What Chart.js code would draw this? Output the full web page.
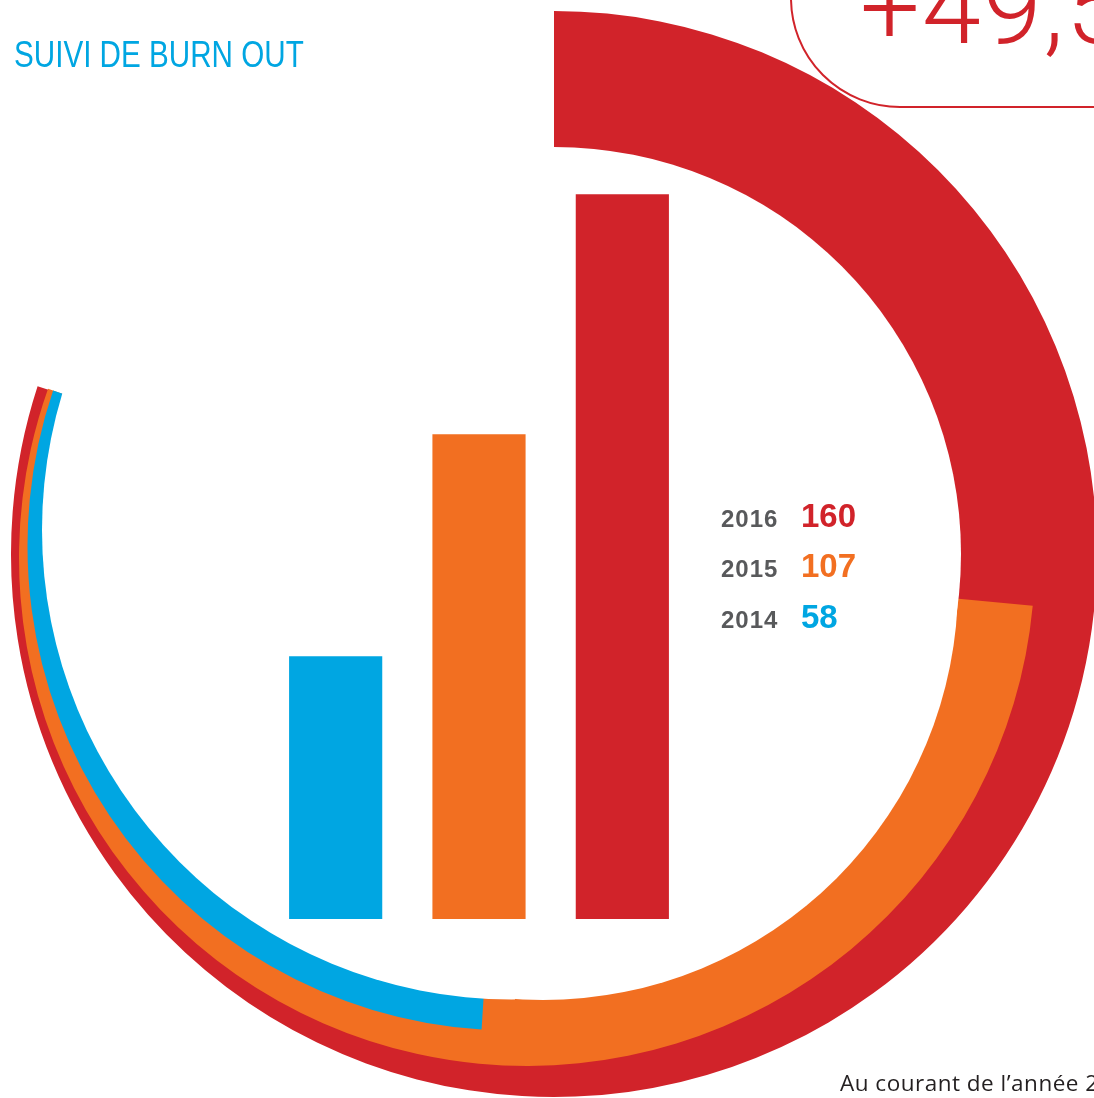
<!DOCTYPE html>
<html lang="fr">
<head>
<meta charset="utf-8">
<title>Suivi de burn out</title>
<script src="https://cdn.jsdelivr.net/npm/chart.js@4.4.1/dist/chart.umd.min.js"></script>
<style>
  html, body { margin: 0; padding: 0; background: #fff; }
  #page { position: relative; width: 1094px; height: 1098px; overflow: hidden; background: #fff; }
  #rings { position: absolute; left: 0; top: 0; z-index: 1; }
  #bars { position: absolute; left: 264px; top: 13px; z-index: 2; }
  .title { position: absolute; left: 14px; top: 37px; z-index: 3; white-space: nowrap;
    font: 36px/36px "Liberation Sans", Arial, sans-serif; color: #00A6E2;
    transform: scaleX(0.823); transform-origin: 0 0; }
  .badge { position: absolute; left: 790px; top: -160px; width: 600px; height: 268px; z-index: 3;
    box-sizing: border-box; border: 2px solid #D1232A; border-radius: 110px; }
  .headline { position: absolute; left: 860px; top: -46px; z-index: 4; white-space: nowrap;
    font: 300 106px/106px Roboto, sans-serif; letter-spacing: 2px; color: #D1232A; }
  #legend { position: absolute; left: 721px; top: 499px; z-index: 3; }
  .row { position: absolute; left: 0; display: flex; align-items: baseline; line-height: 33px; white-space: nowrap; }
  .year { width: 80px; font-weight: bold; font-size: 24px; letter-spacing: 1px; color: #58595B;
    font-family: "Liberation Sans", Arial, sans-serif; }
  .count { font-weight: bold; font-size: 33px; font-family: "Liberation Sans", Arial, sans-serif; }
  .note { position: absolute; left: 840px; top: 1072px; z-index: 3; white-space: nowrap;
    font: 22.5px/22px "Open Sans", sans-serif; letter-spacing: 0.5px; color: #231F20; }
</style>
</head>
<body>
<div id="page">
  <canvas id="rings" width="1094" height="1098"></canvas>
  <canvas id="bars" width="430" height="906"></canvas>
  <div class="title">SUIVI DE BURN OUT</div>
  <div class="badge"></div>
  <div class="headline">+49,5 %</div>
  <div id="legend"></div>
  <div class="note">Au courant de l’année 2016,</div>
</div>
<script>
  'use strict';

  // data
  const years = ['2014', '2015', '2016'];
  const burnOutCases = [58, 107, 160];
  const seriesColors = ['#00A6E2', '#F26F21', '#D1232A'];
  const FULL_TURN = 200; // cases needed to close the ring

  // ring layout on the page (px): centre offset from the hub and outer radius per year
  const HUB = { x: 554, y: 554 };
  const ringShape = [
    { dx: -42, dy: -8, r: 484.5 },
    { dx: -27, dy: 4, r: 508 },
    { dx: 0, dy: 0, r: 543 }
  ];
  // white core drawn over the rings; from/to (clock degrees) limit a disc to a wedge
  const coreDiscs = [
    { dx: 0, dy: 0, r: 407 },
    { dx: -11, dy: 31, r: 415 },
    { dx: -42.5, dy: -24, r: 469.5, from: 185, to: 330 }
  ];

  const toCanvasAngle = deg => (deg - 90) * Math.PI / 180;

  // move each ring onto its own centre so the bands narrow towards the end
  const spiralRings = {
    id: 'spiralRings',
    afterDatasetUpdate(chart, args) {
      const shape = ringShape[args.index];
      args.meta.data.forEach(function (arc, j) {
        arc.x = HUB.x + shape.dx;
        arc.y = HUB.y + shape.dy;
        arc.innerRadius = 0;
        arc.outerRadius = shape.r;
        if (j === 1) {
          // all value slices end on the same radial line through the hub
          const r = shape.r - 10;
          const px = HUB.x + r * Math.cos(arc.endAngle);
          const py = HUB.y + r * Math.sin(arc.endAngle);
          let a = Math.atan2(py - arc.y, px - arc.x);
          while (a - arc.endAngle > Math.PI) a -= Math.PI * 2;
          while (a - arc.endAngle < -Math.PI) a += Math.PI * 2;
          arc.endAngle = a;
          arc.circumference = a - arc.startAngle;
        }
      });
    },
    afterDatasetsDraw(chart) {
      const ctx = chart.ctx;
      coreDiscs.forEach(function (d) {
        ctx.save();
        if (d.from !== undefined) {
          ctx.beginPath();
          ctx.moveTo(HUB.x, HUB.y);
          ctx.arc(HUB.x, HUB.y, 800, toCanvasAngle(d.from), toCanvasAngle(d.to));
          ctx.closePath();
          ctx.clip();
        }
        ctx.fillStyle = '#fff';
        ctx.beginPath();
        ctx.arc(HUB.x + d.dx, HUB.y + d.dy, d.r, 0, Math.PI * 2);
        ctx.fill();
        ctx.restore();
      });
    }
  };

  new Chart(document.getElementById('rings'), {
    type: 'doughnut',
    data: {
      labels: ['', 'cas'],
      datasets: years.map(function (year, i) {
        return {
          label: year,
          data: [FULL_TURN - burnOutCases[i], burnOutCases[i]],
          backgroundColor: ['rgba(0,0,0,0)', seriesColors[i]],
          borderWidth: 0,
          clip: false
        };
      })
    },
    options: {
      responsive: false,
      animation: false,
      events: [],
      // all rings end together, the 2016 ring starts at 12 o'clock
      rotation: 360 * burnOutCases[2] / FULL_TURN,
      circumference: 360,
      plugins: { legend: { display: false }, tooltip: { enabled: false } }
    },
    plugins: [spiralRings]
  });

  new Chart(document.getElementById('bars'), {
    type: 'bar',
    data: {
      labels: years,
      datasets: [{
        data: burnOutCases,
        backgroundColor: seriesColors,
        borderWidth: 0,
        categoryPercentage: 1,
        barPercentage: 0.65
      }]
    },
    options: {
      responsive: false,
      animation: false,
      events: [],
      layout: { padding: 0 },
      plugins: { legend: { display: false }, tooltip: { enabled: false } },
      scales: {
        x: { display: false },
        y: { display: false, min: 0, max: FULL_TURN }
      }
    }
  });

  // legend: newest year first
  const legend = document.getElementById('legend');
  const rowTops = [0, 50, 101];
  years.slice().reverse().forEach(function (year, k) {
    const i = years.length - 1 - k;
    const row = document.createElement('div');
    row.className = 'row';
    row.style.top = rowTops[k] + 'px';
    row.innerHTML = '<span class="year">' + year + '</span>' +
      '<span class="count" style="color:' + seriesColors[i] + '">' + burnOutCases[i] + '</span>';
    legend.appendChild(row);
  });
</script>
</body>
</html>
